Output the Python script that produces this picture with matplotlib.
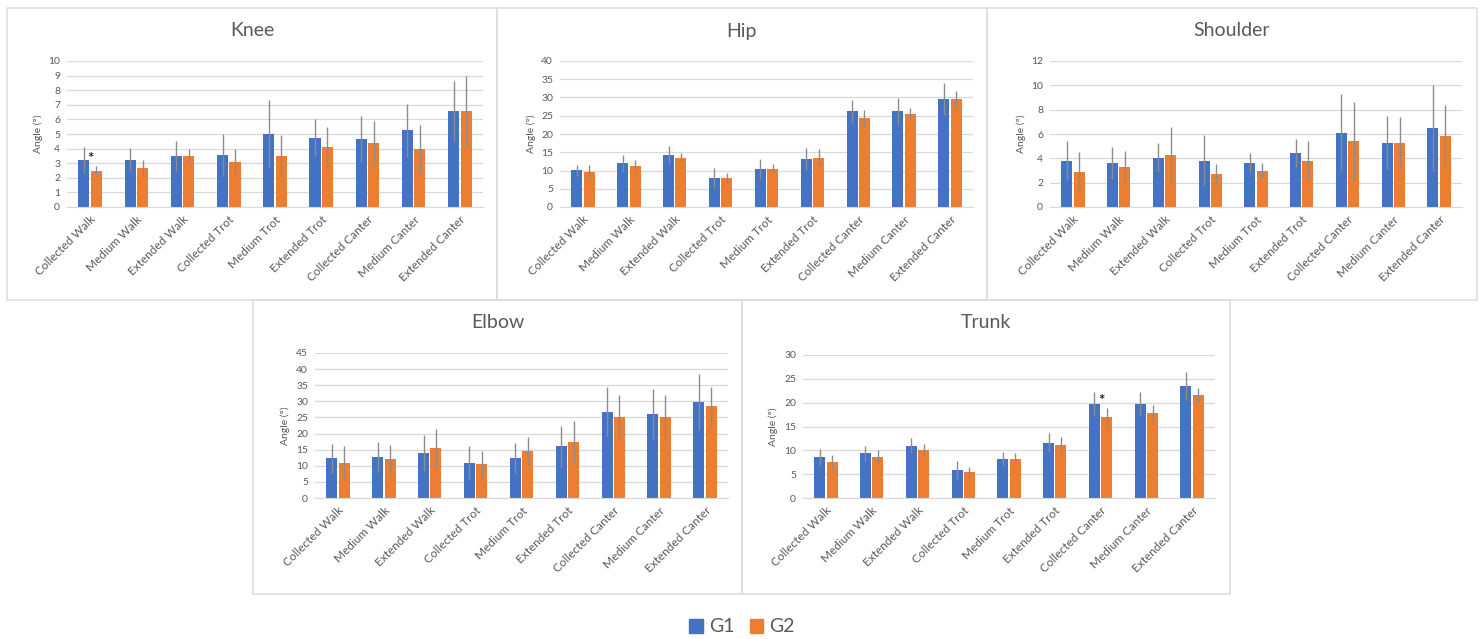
import matplotlib
matplotlib.use("Agg")
import matplotlib.pyplot as plt
from matplotlib.patches import Rectangle, Patch
import numpy as np

plt.rcParams['font.family'] = ['Lato', 'DejaVu Sans']

gaits = ["Collected Walk", "Medium Walk", "Extended Walk", "Collected Trot",
         "Medium Trot", "Extended Trot", "Collected Canter", "Medium Canter",
         "Extended Canter"]

knee_g1 = [3.2, 3.25, 3.5, 3.55, 5.0, 4.75, 4.65, 5.25, 6.55]
knee_g1_sd = [0.9, 0.8, 1.0, 1.45, 2.3, 1.25, 1.6, 1.8, 2.05]
knee_g2 = [2.45, 2.7, 3.5, 3.1, 3.5, 4.1, 4.4, 4.0, 6.55]
knee_g2_sd = [0.35, 0.5, 0.5, 0.9, 1.4, 1.4, 1.5, 1.65, 2.45]

hip_g1 = [10.1, 12.0, 14.2, 7.9, 10.5, 13.1, 26.2, 26.2, 29.6]
hip_g1_sd = [1.5, 2.3, 2.5, 2.7, 2.7, 3.0, 3.2, 3.6, 4.3]
hip_g2 = [9.7, 11.2, 13.5, 7.9, 10.5, 13.5, 24.3, 25.5, 29.6]
hip_g2_sd = [1.7, 1.8, 1.2, 1.3, 1.2, 2.3, 2.3, 1.7, 2.1]

shoulder_g1 = [3.8, 3.6, 4.05, 3.8, 3.6, 4.4, 6.1, 5.3, 6.5]
shoulder_g1_sd = [1.6, 1.3, 1.2, 2.1, 0.8, 1.15, 3.15, 2.15, 3.5]
shoulder_g2 = [2.9, 3.3, 4.25, 2.7, 3.0, 3.8, 5.4, 5.3, 5.85]
shoulder_g2_sd = [1.65, 1.3, 2.35, 0.8, 0.6, 1.6, 3.2, 2.1, 2.5]

elbow_g1 = [12.3, 12.7, 14.0, 11.0, 12.3, 16.1, 26.8, 26.0, 29.8]
elbow_g1_sd = [4.5, 4.6, 5.6, 5.2, 4.9, 6.4, 7.6, 7.7, 8.6]
elbow_g2 = [11.0, 12.0, 15.4, 10.7, 14.5, 17.5, 25.0, 25.0, 28.4]
elbow_g2_sd = [5.0, 4.3, 6.0, 4.0, 4.4, 6.4, 7.0, 7.0, 6.0]

trunk_g1 = [8.5, 9.35, 10.95, 5.85, 8.15, 11.6, 19.75, 19.75, 23.5]
trunk_g1_sd = [1.8, 1.5, 1.55, 1.9, 1.4, 2.0, 2.5, 2.5, 2.9]
trunk_g2 = [7.6, 8.5, 10.1, 5.4, 8.15, 11.2, 16.9, 17.8, 21.55]
trunk_g2_sd = [1.5, 1.6, 1.3, 1.2, 1.25, 1.7, 1.9, 1.8, 1.5]

W, H = 1483, 639
BLUE = "#4472C4"
ORANGE = "#ED7D31"
GRID = "#D9D9D9"
TXT = "#595959"

fig = plt.figure(figsize=(W / 100, H / 100), dpi=100)


def px_box(x0, y0, x1, y1):
    """Convert pixel box (top-left origin) to figure fraction [l, b, w, h]."""
    return [x0 / W, 1 - y1 / H, (x1 - x0) / W, (y1 - y0) / H]


panels = [
    # title, g1, g1 sd, g2, g2 sd, ymax, ystep, frame box, axes box, star index
    ("Knee", knee_g1, knee_g1_sd, knee_g2, knee_g2_sd, 10, 1,
     (7, 8, 497, 300), (67, 61, 483, 207), 0),
    ("Hip", hip_g1, hip_g1_sd, hip_g2, hip_g2_sd, 40, 5,
     (497, 8, 987, 300), (560, 61, 973, 207), None),
    ("Shoulder", shoulder_g1, shoulder_g1_sd, shoulder_g2, shoulder_g2_sd, 12, 2,
     (987, 8, 1477, 300), (1050, 61, 1462, 207), None),
    ("Elbow", elbow_g1, elbow_g1_sd, elbow_g2, elbow_g2_sd, 45, 5,
     (253, 300, 742, 594), (315, 353, 728, 498), None),
    ("Trunk", trunk_g1, trunk_g1_sd, trunk_g2, trunk_g2_sd, 30, 5,
     (742, 300, 1230, 594), (803, 355, 1215, 498), 6),
]

# panel frames
for p in panels:
    x0, y0, x1, y1 = p[7]
    l, b, w, h = px_box(x0, y0, x1, y1)
    fig.patches.append(Rectangle((l, b), w, h, transform=fig.transFigure,
                                 facecolor="none", edgecolor="#DEDEDE", lw=1.2,
                                 zorder=-1))

x = np.arange(len(gaits))
bw = 0.24
off = 0.135

for title, g1, s1, g2, s2, ymax, ystep, frame, box, star in panels:
    ax = fig.add_axes(px_box(*box))
    ax.set_facecolor("none")
    ax.bar(x - off, g1, bw, color=BLUE, zorder=2)
    ax.bar(x + off, g2, bw, color=ORANGE, zorder=2)
    ax.errorbar(x - off, g1, yerr=s1, fmt="none", ecolor="#8C8C8C",
                elinewidth=1.0, capsize=0, zorder=3)
    ax.errorbar(x + off, g2, yerr=s2, fmt="none", ecolor="#8C8C8C",
                elinewidth=1.0, capsize=0, zorder=3)
    ax.set_xlim(-0.5, len(gaits) - 0.5)
    ax.set_ylim(0, ymax)
    ax.set_yticks(np.arange(0, ymax + ystep / 2, ystep))
    ax.yaxis.grid(True, color=GRID, lw=0.9, zorder=0)
    ax.set_axisbelow(True)
    for s in ["top", "right", "left"]:
        ax.spines[s].set_visible(False)
    ax.spines["bottom"].set_color(GRID)
    ax.tick_params(length=0, colors=TXT, labelsize=7.5, pad=5)
    ax.set_xticks(x)
    ax.set_xticklabels(gaits, rotation=45, ha="right", rotation_mode="anchor",
                       fontsize=8.5, color=TXT)
    ax.set_ylabel("Angle (°)", fontsize=7.5, color=TXT, labelpad=4)
    fx0, fy0, fx1, fy1 = frame
    fig.text(((fx0 + fx1) / 2) / W, 1 - (fy0 + 23) / H, title,
             ha="center", va="center", fontsize=14, color=TXT)
    if star is not None:
        ax.text(x[star] + off - 0.12, g2[star] + s2[star] + 0.05 * ymax, "*",
                ha="center", va="center", fontsize=11, fontweight="bold",
                color="#222222")

fig.legend(handles=[Patch(color=BLUE, label="G1"),
                    Patch(color=ORANGE, label="G2")],
           loc="center", bbox_to_anchor=(742 / W, 1 - 627 / H), ncol=2,
           frameon=False, fontsize=14, handlelength=0.7, handleheight=0.7,
           handletextpad=0.3, columnspacing=0.8, labelcolor=TXT)

fig.savefig("out.png", dpi=100, facecolor="white")
